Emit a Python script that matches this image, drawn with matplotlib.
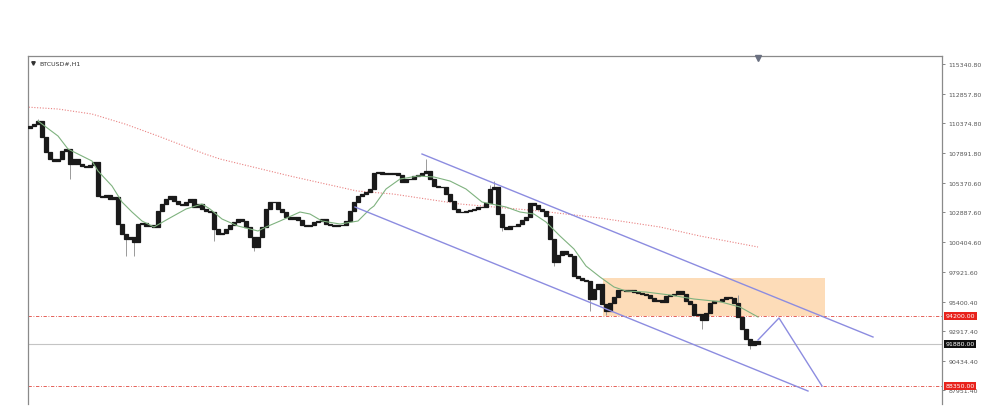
import numpy as np
import matplotlib.pyplot as plt
from matplotlib.patches import Rectangle

# hourly closes (one candle per index)
closes = [110139, 110306, 110558, 109216, 107957, 107370, 107202, 107370, 108041, 108209,
          106950, 107370, 106950, 106783, 106699, 106866, 107118, 104266, 104182, 104350,
          104014, 104182, 101916, 101077, 100658, 100826, 100406, 101916, 102000, 101749,
          101833, 101665, 103007, 103594, 104014, 104266, 103846, 103594, 103511, 103762,
          104014, 103343, 103594, 103175, 103007, 102923, 101497, 101077, 101161, 101497,
          101833, 102084, 102336, 102168, 101665, 100826, 99987, 100826, 101665, 103175,
          103762, 103762, 103175, 102923, 102504, 102336, 102504, 102252, 101833, 101749,
          101833, 102084, 102168, 102336, 101916, 101833, 101749, 101833, 101833, 102168,
          103007, 103762, 104266, 104433, 104601, 104853, 106195, 106279, 106111, 106195,
          106111, 106195, 106028, 105440, 105692, 105692, 105944, 106028, 106195, 106363,
          105692, 105105, 105021, 105021, 104433, 103846, 103175, 102923, 102923, 103007,
          103091, 103175, 103343, 103343, 103678, 104853, 105021, 102755, 101665, 101497,
          101749, 101749, 101916, 102252, 102504, 103678, 103511, 103175, 103007, 102587,
          100658, 98728, 99316, 99651, 99399, 99232, 97554, 97386, 97218, 97134,
          95624, 96463, 96883, 95204, 94617, 95288, 95792, 96379, 96379, 96295,
          96379, 96211, 96127, 96043, 95959, 95708, 95456, 95540, 95372, 95876,
          95959, 96043, 96295, 96043, 95456, 95204, 94282, 94365, 93862, 94449,
          95288, 95456, 95456, 95624, 95792, 95708, 95288, 94114, 93107, 92267,
          91764, 92100, 91880]
first_open = 110000
high_spikes = {2: 110726, 99: 107370, 115: 105189, 116: 105524, 177: 95959}
low_spikes = {10: 105690, 24: 99270, 26: 99230, 46: 100490, 56: 99650, 118: 101330,
              131: 98390, 140: 94620, 144: 94280, 168: 93110, 180: 91430}

# moving averages (green fast, red dotted slow)
ma_fast_idx = [2, 7, 9.5, 15.5, 17, 20.5, 23, 25.5, 28, 31, 34.5, 39, 43, 45, 48, 52, 57, 59,
               62.5, 67.5, 70, 73, 77.5, 82, 85, 86, 89, 92.5, 97, 101, 105, 109, 113, 119,
               122.5, 126, 129, 132.5, 136, 139, 142.5, 146, 149, 154, 160, 166, 172.5, 177.5, 182]
ma_fast_val = [110558, 109300, 108209, 107202, 106363, 105105, 103762, 102923, 102168, 101665,
               102336, 103175, 103594, 103175, 102336, 101749, 101330, 101665, 102168, 102923,
               102755, 102168, 101916, 102168, 103175, 103427, 104853, 105692, 105944, 105860,
               105524, 104853, 103762, 103343, 102923, 102755, 102084, 100910, 99819, 98393,
               97470, 96631, 96295, 96211, 95959, 95624, 95400, 94950, 94114]
ma_slow_idx = [-1, 7, 15.5, 23.75, 32, 43.75, 47.5, 65, 81.75, 90.75, 107.5, 127.5, 142.5,
               157.5, 167.5, 182]
ma_slow_val = [111733, 111565, 111145, 110306, 109300, 107790, 107370, 105944, 104685, 104433,
               103594, 103007, 102420, 101665, 100910, 99987]

# drawings
channel_upper = [(98, 107790), (210.75, 92436)]
channel_lower = [(81.25, 103343), (194.5, 87905)]
projection = [(182, 92184), (187.25, 94030), (198, 88325)]
zone_x = (143.25, 198.75)
zone_y = (94200, 97386)
levels = [94200, 88350]
last_price = 91880
ticks = [115340.80, 112857.80, 110374.80, 107891.80, 105370.60, 102887.60, 100404.60,
         97921.60, 95400.40, 92917.40, 90434.40, 87951.40]

opens = [first_open] + closes[:-1]
n = len(closes)
idx = np.arange(n)

fig = plt.figure(figsize=(10, 4.14), dpi=100)
ax = fig.add_axes([0.028, 0.0217, 0.914, 0.8406])
ax.set_xlim(-0.5, 228)
ax.set_ylim(86814, 116012)

# supply zone
ax.add_patch(Rectangle((zone_x[0], zone_y[0]), zone_x[1] - zone_x[0], zone_y[1] - zone_y[0],
                       facecolor='#fddcb8', edgecolor='none', zorder=0))

# horizontal levels
for lv in levels:
    ax.axhline(lv, color='#e0483f', lw=0.6, ls=(0, (4, 2, 1, 2)), zorder=1)
ax.axhline(last_price, color='#c4c4c4', lw=0.8, zorder=1)

ax.plot(ma_slow_idx, ma_slow_val, color='#e98080', lw=0.8, ls=(0, (1, 1.5)), zorder=2)

# candles
for i in range(n):
    o, c = opens[i], closes[i]
    hi = high_spikes.get(i, max(o, c))
    lo = low_spikes.get(i, min(o, c))
    ax.vlines(i, lo, hi, color='#9a9a9a', lw=0.7, zorder=3)
bottoms = [min(o, c) for o, c in zip(opens, closes)]
heights = [abs(c - o) for o, c in zip(opens, closes)]
ax.bar(idx, heights, bottom=bottoms, width=0.8, color='#1a1a1a', edgecolor='#1a1a1a',
       lw=0.9, zorder=4)

ax.plot(ma_fast_idx, ma_fast_val, color='#7fb27f', lw=0.8, zorder=5)

# channel and projected path
for line in (channel_upper, channel_lower):
    xs, ys = zip(*line)
    ax.plot(xs, ys, color='#8c8ce0', lw=1.0, zorder=6)
px, py = zip(*projection)
ax.plot(px, py, color='#8c8ce0', lw=1.0, zorder=6)

# axes look
ax.set_xticks([])
ax.yaxis.tick_right()
ax.set_yticks(ticks)
ax.set_yticklabels([f'{t:.2f}' for t in ticks])
ax.tick_params(axis='y', labelsize=4.5, length=2.5, width=0.5, colors='#555555', pad=2)
ax.spines['bottom'].set_visible(False)
for s in ('left', 'top', 'right'):
    ax.spines[s].set_color('#8a8a8a')
    ax.spines[s].set_linewidth(0.9)

# price labels on the scale
tr = ax.get_yaxis_transform()
for lv in levels:
    ax.text(1.004, lv, f'{lv:.2f}', transform=tr, fontsize=4.5, color='white', va='center',
            ha='left', bbox=dict(boxstyle='square,pad=0.25', fc='#e8231c', ec='none'), zorder=10)
ax.text(1.004, last_price, f'{last_price:.2f}', transform=tr, fontsize=4.5, color='white',
        va='center', ha='left', bbox=dict(boxstyle='square,pad=0.25', fc='#111111', ec='none'),
        zorder=10)

# symbol caption
ax.plot([0.006], [0.98], marker='v', ms=2.5, color='#333333', transform=ax.transAxes)
ax.text(0.012, 0.985, 'BTCUSD#,H1', transform=ax.transAxes, fontsize=4.5, color='#333333',
        va='top', ha='left')
ax.plot([n - 1], [115844], marker='v', ms=4, color='#6a7080', clip_on=False, zorder=10)

plt.savefig('out.png', dpi=100)
